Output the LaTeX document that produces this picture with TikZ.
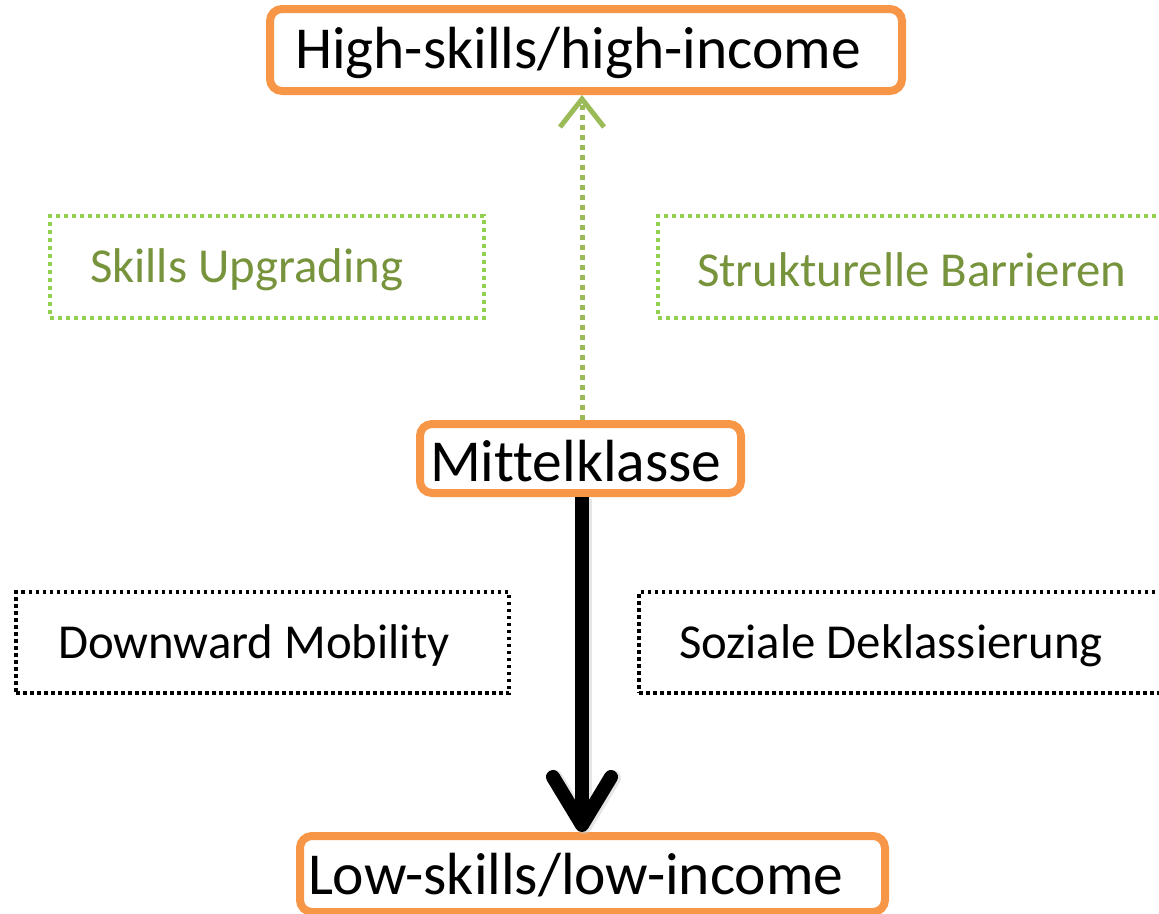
\documentclass[tikz,border=0pt]{standalone}
\usepackage{fontspec}
\setmainfont{Carlito}[Ligatures=CommonOff]
\usetikzlibrary{arrows.meta,calc}
\definecolor{orbox}{HTML}{F79646}
\definecolor{gtext}{HTML}{77933C}
\definecolor{gdot}{HTML}{92D050}
\definecolor{garrow}{HTML}{9BBB59}
\tikzset{
  x=1pt, y=-1pt,
  classbox/.style={draw=orbox, line width=8pt, rounded corners=12pt, fill=white, anchor=center, font=\fontsize{59.5}{64}\selectfont, inner ysep=0pt},
  gbox/.style={draw=gdot, line width=4pt, dash pattern=on 4pt off 4pt, text=gtext, font=\fontsize{48.8}{54}\selectfont, inner ysep=0pt},
  kbox/.style={draw=black, line width=3.5pt, dash pattern=on 3.5pt off 3.5pt, font=\fontsize{48.8}{54}\selectfont, inner ysep=0pt},
}
\newcommand{\lbox}[3][-3pt]{\raisebox{#1}[\height][\depth]{\makebox[#2][l]{#3}}}
\begin{document}
\begin{tikzpicture}
\useasboundingbox (0,0) rectangle (1159,913);
\node[classbox, inner xsep=25pt, minimum height=82pt] (hi) at (586,50) {\lbox{582pt}{High-skills/high-income}};
\node[classbox, inner xsep=10pt, minimum height=69pt] (mk) at (580.5,458.5) {\lbox{301pt}{Mittelklasse}};
\node[classbox, inner xsep=8pt, minimum height=76pt] (lo) at (592.5,874) {\lbox[-1pt]{569pt}{Low-skills/low-income}};
\node[gbox, inner xsep=40pt, minimum height=102pt] (su) at (267,267) {\lbox{354pt}{Skills Upgrading}};
\node[gbox, inner xsep=39pt, minimum height=102pt] (sb) at (913,267) {\lbox{432pt}{Strukturelle Barrieren}};
\node[kbox, inner xsep=42pt, minimum height=101pt] (dm) at (262.5,642.5) {\lbox{409pt}{Downward Mobility}};
\node[kbox, inner xsep=40pt, minimum height=101pt] (sd) at (902,642.5) {\lbox{446pt}{Soziale Deklassierung}};
\coordinate (gtop) at ($(mk.north)+(1.5,0)$);
\coordinate (kbot) at ($(mk.south)+(1.5,0)$);
\draw[garrow, line width=5pt, dash pattern=on 5pt off 5pt,
  -{Straight Barb[length=28pt, width=44pt, line width=5pt]}] (gtop) -- (gtop |- hi.south);
\draw[black!20, line width=16pt, opacity=0.5, transform canvas={shift={(2pt,-2pt)}},
  -{Straight Barb[length=48pt, width=58pt, line width=16pt, round]}] (kbot) -- (kbot |- lo.north);
\draw[black, line width=14pt,
  -{Straight Barb[length=48pt, width=58pt, line width=14pt, round]}] (kbot) -- (kbot |- lo.north);
\end{tikzpicture}
\end{document}
